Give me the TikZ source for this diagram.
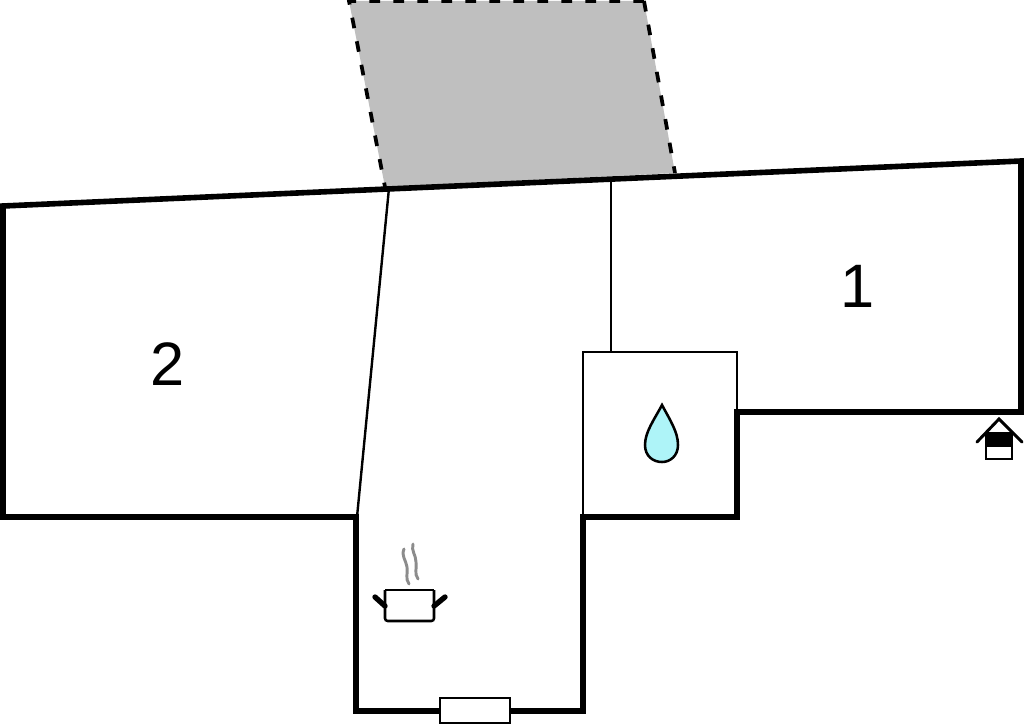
\documentclass[tikz,border=0pt]{standalone}
\usepackage{fontspec}
\setmainfont{Liberation Sans}
\usetikzlibrary{positioning}

\begin{document}
\begin{tikzpicture}[
x=0.75pt, y=-0.75pt,
wall/.style ={draw=black, line width=4.2pt, line join=miter},
partition/.style ={draw=black, line width=1.8pt},
icon/.style ={draw=black, line width=1.9pt},
dashline/.style ={draw=black, line width=2.8pt, dash pattern=on 8pt off 10pt},
steam/.style ={draw=black!45, line width=2.2pt, line cap=round},
roomnum/.style ={font=\fontsize{46pt}{46pt}\selectfont, inner sep=0pt}
]
\useasboundingbox (0,0) rectangle (1024,724);

% terrace
\fill[black!25] (349,1) -- (644,1) -- (675,173) -- (385,187) -- cycle;
\draw[dashline] (644,1) -- (349,1) -- (385,187);
\draw[dashline] (644,1) -- (675,173);

% inner walls
\draw[partition] (389,188) -- (357,517);
\draw[partition] (611,180) -- (611,352);
\draw[partition] (583,517) -- (583,352) -- (737,352) -- (737,412);

% outer walls
\draw[wall] (3,206) -- (1021,161) -- (1021,412) -- (737,412) -- (737,517)
  -- (583,517) -- (583,711) -- (356,711) -- (356,517) -- (3,517) -- cycle;

% room numbers
\node[roomnum] (one) at (858,286) {1};
\node[roomnum] (two) at (168,364) {2};

% window
\draw[icon, fill=white] (440,698) rectangle (510,723);

% drop
\draw[icon, fill={rgb,255:red,174;green,244;blue,248}] (662,405) .. controls (670,420) and (678,432) .. (678,445)
  .. controls (678,456) and (670,462) .. (662,462)
  .. controls (653,462) and (645,456) .. (645,445)
  .. controls (645,432) and (654,420) .. (662,405) -- cycle;

% well
\draw[icon, fill=white] (986,433) rectangle (1012,459);
\fill[black] (986,433) rectangle (1012,447);
\draw[icon, line width=2.2pt, line cap=round] (977,442) -- (999,419) -- (1022,442);

% pot
\draw[icon, rounded corners=2pt] (385,590) -- (385,621) -- (434,621) -- (434,590);
\draw[icon] (385,590) -- (434,590);
\draw[line width=4pt, line cap=round] (375,597) -- (385,606);
\draw[line width=4pt, line cap=round] (445,597) -- (434,606);
\draw[steam] (404,549) .. controls (401,556) and (406,560) .. (407,567) .. controls (408,574) and (405,578) .. (409,584);
\draw[steam] (413,544) .. controls (411,551) and (416,555) .. (416,562) .. controls (417,569) and (414,573) .. (418,579);
\end{tikzpicture}
\end{document}
